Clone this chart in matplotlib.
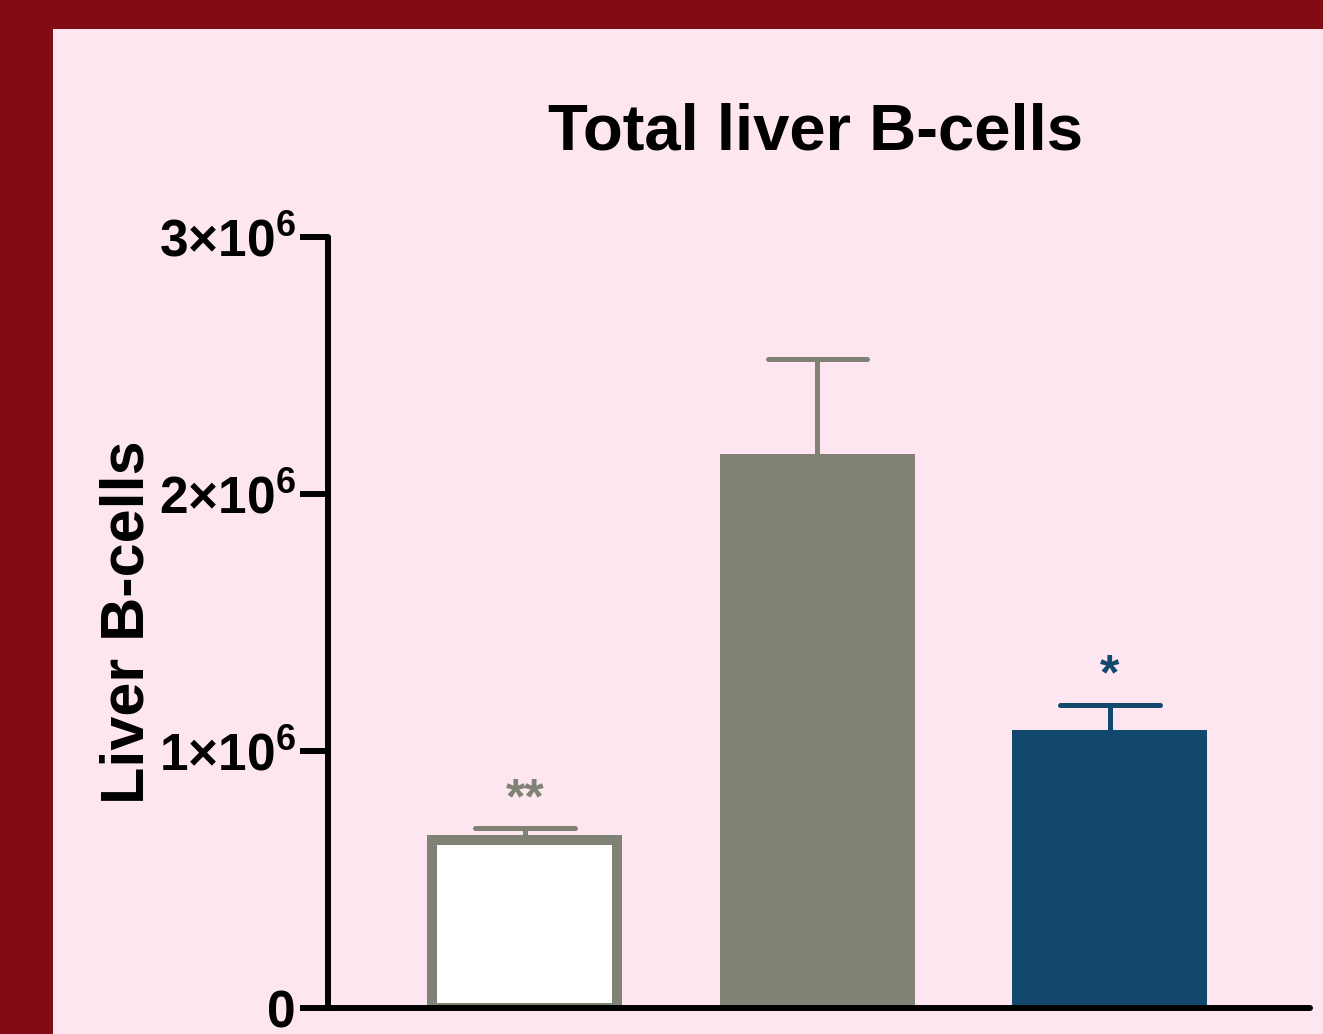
import matplotlib
matplotlib.use("Agg")
import matplotlib.pyplot as plt
from matplotlib.patches import Rectangle

# Daten
groups = ["Ctrl", "Mid", "Treat"]
means = [0.655e6, 2.155e6, 1.08e6]
errors = [0.045e6, 0.37e6, 0.10e6]
stars = ["**", "", "*"]
yticks = [0, 1e6, 2e6, 3e6]
ytick_labels = ["0", r"$1{\times}10^{6}$", r"$2{\times}10^{6}$", r"$3{\times}10^{6}$"]

fam = "Liberation Sans"
plt.rcParams["font.family"] = [fam, "DejaVu Sans"]
plt.rcParams["font.weight"] = "bold"
plt.rcParams["mathtext.fontset"] = "custom"
plt.rcParams["mathtext.rm"] = fam + ":bold"
plt.rcParams["mathtext.it"] = fam + ":bold"
plt.rcParams["mathtext.bf"] = fam + ":bold"
plt.rcParams["mathtext.default"] = "rm"

dark_red = "#820c16"
pink = "#fde6ef"
gray = "#7f8275"
blue = "#13486e"

fig = plt.figure(figsize=(13.23, 10.34), dpi=100, facecolor=dark_red)
fig.patches.append(Rectangle((53 / 1323, 0), 1, 1 - 29 / 1034, transform=fig.transFigure,
                             facecolor=pink, edgecolor="none", zorder=-5))

ax = fig.add_axes([328 / 1323, 1 - 1008 / 1034, (1310 - 328) / 1323, (1008 - 237) / 1034])
ax.set_facecolor("none")
ax.set_zorder(2)

x = list(range(len(groups)))
facecols = ["white", gray, blue]
edgecols = [gray, gray, blue]
lws = [7.2, 0, 0]
widths = [0.633, 0.667, 0.667]
errcols = [gray, gray, blue]
cap = 0.17

for i in x:
    top = means[i] + errors[i]
    ax.vlines(i, means[i], top, color=errcols[i], linewidth=3.6, zorder=1)
    ax.hlines(top, i - cap, i + cap, color=errcols[i], linewidth=3.6, zorder=1,
              capstyle="round")
    ax.bar(i, means[i], width=widths[i], color=facecols[i], edgecolor=edgecols[i],
           linewidth=lws[i], zorder=2)
    if stars[i]:
        ax.text(i, top + 0.11e6, stars[i],
                ha="center", va="center", fontsize=36, color=errcols[i], fontweight="bold")

ax.set_xlim(-0.673, 2.684)
ax.set_ylim(0, 3e6)
ax.set_yticks(yticks)
ax.set_yticklabels(ytick_labels)
ax.set_xticks([])

for s in ["top", "right"]:
    ax.spines[s].set_visible(False)
for s in ["left", "bottom"]:
    ax.spines[s].set_linewidth(4.3)
    ax.spines[s].set_capstyle("round")
ax.tick_params(axis="y", length=20, width=4.3, pad=3, labelsize=37)

fig.text(815 / 1323, 1 - 133 / 1034, "Total liver B-cells", ha="center", va="center",
         fontsize=47, fontweight="bold")
fig.text(128 / 1323, 1 - 622 / 1034, "Liver B-cells", ha="center", va="center",
         rotation=90, fontsize=44, fontweight="bold")

fig.savefig("out.png", dpi=100, facecolor=dark_red)
